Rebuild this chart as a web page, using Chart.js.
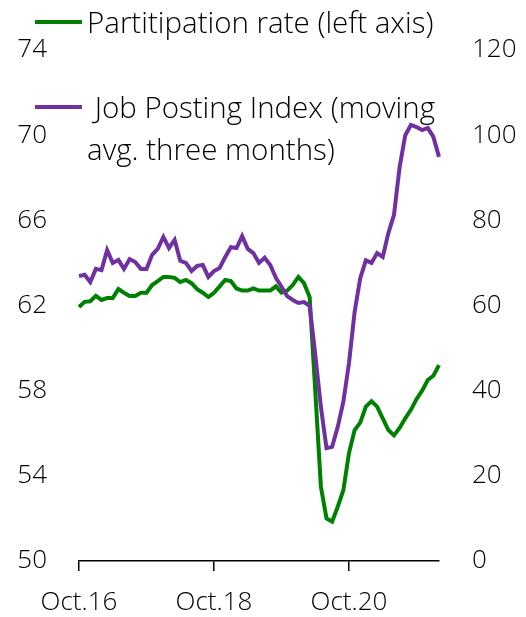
<!DOCTYPE html>
<html lang="en">
<head>
    <meta charset="UTF-8">
    <title>Participation rate and Job Posting Index</title>
    <script src="https://cdn.jsdelivr.net/npm/chart.js@4.4.1/dist/chart.umd.min.js"></script>
    <style>
        html, body { margin: 0; padding: 0; background: #fff; }
        #wrap { position: relative; width: 526px; height: 617px; }
        .legend {
            position: absolute;
            font-family: "Open Sans", sans-serif;
            font-weight: 300;
            font-size: 29.5px;
            line-height: 42px;
            color: #000;
            white-space: nowrap;
        }
        .legend .swatch {
            position: absolute;
            left: -52px;
            top: 19px;
            width: 47px;
            height: 4px;
        }
    </style>
</head>
<body>
<div id="wrap">
    <canvas id="chart" width="526" height="617"></canvas>
    <div class="legend" style="left:87px; top:1px;">
        <span class="swatch" style="background:#008000"></span>Partitipation rate (left axis)
    </div>
    <div class="legend" style="left:87px; top:86px;">
        <span class="swatch" style="background:#7030A0"></span>&nbsp;Job Posting Index (moving<br>avg. three months)
    </div>
</div>

<script>
    // Monthly data, Oct 2016 - Feb 2022
    const startYear = 2016;
    const startMonth = 9; // October (0-based)
    const tickLabels = ['Oct.16', 'Oct.18', 'Oct.20'];

    const participationRate = [
        61.93, 62.17, 62.2, 62.45, 62.26, 62.35, 62.35, 62.77, 62.6, 62.45,
        62.45, 62.6, 62.6, 62.96, 63.15, 63.34, 63.34, 63.3, 63.1, 63.2,
        63.05, 62.77, 62.6, 62.4, 62.6, 62.9, 63.2, 63.15, 62.8, 62.7,
        62.7, 62.8, 62.7, 62.7, 62.7, 62.9, 62.6, 62.7, 62.96, 63.34,
        63.05, 62.4, 58.0, 53.5, 52.0, 51.85, 52.55, 53.33, 55.07, 56.15,
        56.5, 57.25, 57.5, 57.25, 56.7, 56.15, 55.9, 56.25, 56.7, 57.1,
        57.6, 58.0, 58.5, 58.7, 59.2
    ];

    const jobPostingIndex = [
        66.9, 67.2, 65.5, 68.6, 68.3, 73.0, 70.0, 70.7, 68.6, 70.9,
        70.2, 68.6, 68.6, 71.9, 73.3, 76.1, 73.5, 75.4, 70.5, 70.0,
        68.1, 69.3, 69.5, 66.7, 68.1, 68.8, 71.4, 73.7, 73.5, 76.3,
        73.3, 72.3, 70.0, 71.2, 69.5, 66.5, 64.4, 62.2, 61.3, 60.6,
        60.8, 59.9, 48.5, 36.2, 26.5, 26.8, 31.5, 37.4, 46.5, 58.5,
        66.4, 70.6, 70.0, 72.3, 71.4, 77.0, 81.3, 92.5, 100.0, 102.4,
        101.9, 101.2, 101.7, 99.6, 94.9
    ];

    const monthNames = ['Jan', 'Feb', 'Mar', 'Apr', 'May', 'Jun', 'Jul', 'Aug', 'Sep', 'Oct', 'Nov', 'Dec'];
    const categories = participationRate.map((_, i) => {
        const m = startMonth + i;
        const y = startYear + Math.floor(m / 12);
        return monthNames[m % 12] + '.' + String(y).slice(2);
    });

    const tickFont = { family: '"Open Sans", sans-serif', size: 26, weight: '300' };

    new Chart(document.getElementById('chart'), {
        type: 'line',
        data: {
            labels: categories,
            datasets: [
                {
                    label: 'Partitipation rate (left axis)',
                    data: participationRate,
                    borderColor: '#008000',
                    borderWidth: 4,
                    pointRadius: 0,
                    yAxisID: 'y',
                    order: 2
                },
                {
                    label: 'Job Posting Index (moving avg. three months)',
                    data: jobPostingIndex,
                    borderColor: '#7030A0',
                    borderWidth: 4,
                    pointRadius: 0,
                    yAxisID: 'y1',
                    order: 1
                }
            ]
        },
        options: {
            responsive: false,
            devicePixelRatio: 1,
            animation: false,
            layout: { padding: { top: 50, right: 0, bottom: 0, left: 0 } },
            plugins: { legend: { display: false }, tooltip: { enabled: false } },
            scales: {
                x: {
                    type: 'category',
                    offset: false,
                    grid: { drawOnChartArea: false, drawTicks: true, tickLength: 10, color: '#000', lineWidth: 1.5 },
                    border: { display: true, color: '#000', width: 1.5 },
                    ticks: {
                        autoSkip: false,
                        maxRotation: 0,
                        padding: 16,
                        color: '#000',
                        font: tickFont,
                        callback: function (value) {
                            const label = this.getLabelForValue(value);
                            return tickLabels.includes(label) ? label : '';
                        }
                    },
                    afterBuildTicks: (scale) => {
                        scale.ticks = scale.ticks.filter(t => tickLabels.includes(categories[t.value]));
                    },
                    afterFit: (scale) => { scale.height = 56; }
                },
                y: {
                    position: 'left',
                    min: 50,
                    max: 74,
                    grid: { display: false, drawTicks: false },
                    border: { display: false },
                    ticks: { stepSize: 4, padding: 32, color: '#000', font: tickFont },
                    afterFit: (scale) => { scale.width = 79; }
                },
                y1: {
                    position: 'right',
                    min: 0,
                    max: 120,
                    grid: { display: false, drawTicks: false },
                    border: { display: false },
                    ticks: { stepSize: 20, padding: 33, color: '#000', font: tickFont },
                    afterFit: (scale) => { scale.width = 87; }
                }
            }
        }
    });
</script>
</body>
</html>
